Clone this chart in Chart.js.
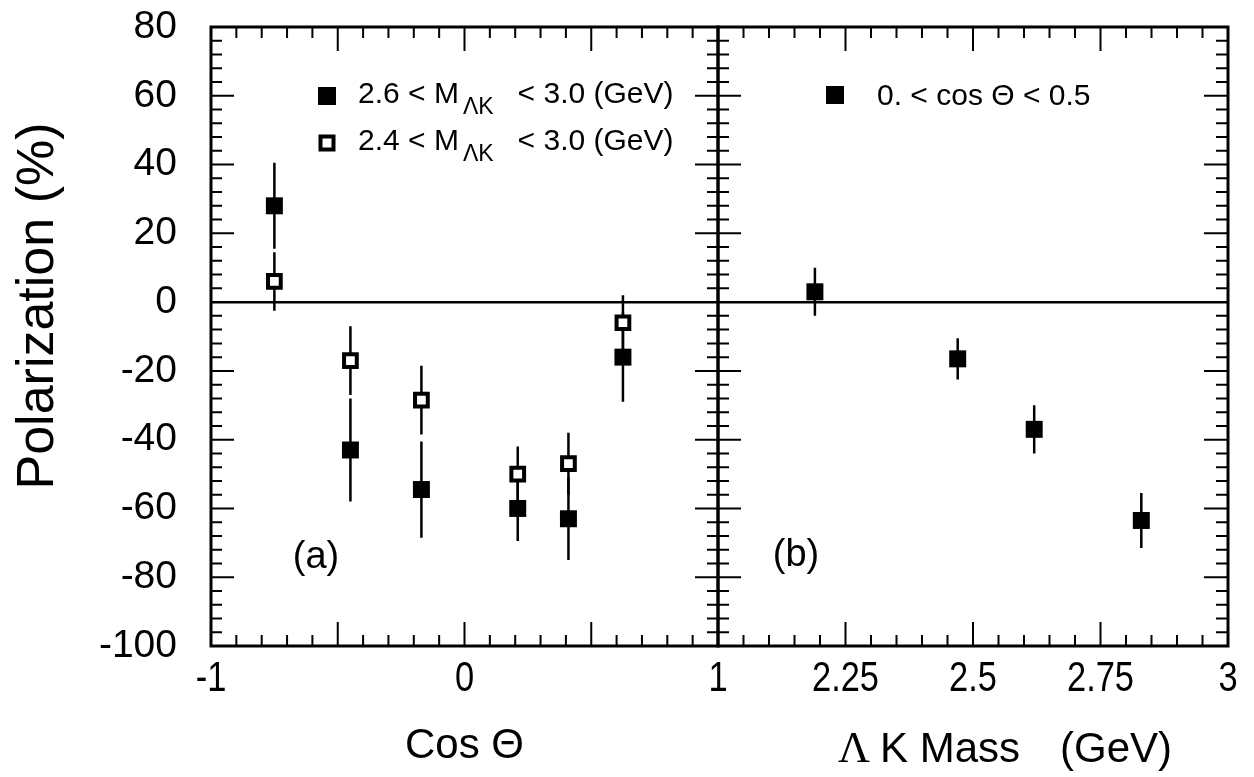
<!DOCTYPE html>
<html>
<head>
<meta charset="utf-8">
<script src="https://cdn.jsdelivr.net/npm/chart.js@4.4.0/dist/chart.umd.min.js"></script>
<style>
  html, body { margin: 0; padding: 0; background: #fff; }
  #wrap { position: relative; width: 1254px; height: 777px; overflow: hidden; background: #fff; }
  canvas { position: absolute; top: 0; }
  #chartA { left: 0; }
  #chartB { left: 700px; }
</style>
</head>
<body>
<div id="wrap">
  <canvas id="chartA" width="760" height="777"></canvas>
  <canvas id="chartB" width="554" height="777"></canvas>
</div>
<script>
// panel (a): polarization vs cos theta
const cosTheta = [-0.75, -0.45, -0.17, 0.21, 0.41, 0.625];
const polHigh = [28, -43, -54.5, -60, -63, -16];     // 2.6 < M < 3.0 (filled)
const polHighErr = [12.5, 15, 14, 9.5, 12, 13];
const polWide = [6, -17, -28.5, -50, -47, -6];       // 2.4 < M < 3.0 (open)
const polWideErr = [8.5, 10, 10, 8, 9, 8];

// panel (b): polarization vs Lambda K mass, 0 < cos < 0.5
const massLK = [2.19, 2.47, 2.62, 2.83];
const polMass = [3, -16.5, -37, -63.5];
const polMassErr = [7, 6, 7, 8];

const yMin = -100, yMax = 80, yStep = 20;
const xTicksA = [-1, 0, 1];
const xTicksB = [2.25, 2.5, 2.75, 3];

const SANS = "'Liberation Sans', Arial, Helvetica, sans-serif";
Chart.defaults.font.family = SANS;
Chart.defaults.color = '#000';

function points(xs, ys) {
  return xs.map((x, i) => ({ x: x, y: ys[i] }));
}

function errorBars(xs, ys, errs) {
  const out = [];
  xs.forEach((x, i) => {
    out.push({ x: x, y: ys[i] - errs[i] });
    out.push({ x: x, y: ys[i] + errs[i] });
    out.push({ x: x, y: null });
  });
  return out;
}

function barSet(data) {
  return {
    type: 'line', data: data, showLine: true, spanGaps: false,
    borderColor: '#000', borderWidth: 2.5, pointRadius: 0, fill: false
  };
}

function filledSet(data) {
  return {
    type: 'scatter', data: data, pointStyle: 'rect', pointRadius: 12,
    backgroundColor: '#000', borderColor: '#000', borderWidth: 0
  };
}

function openSet(data) {
  return {
    type: 'scatter', data: data, pointStyle: 'rect', pointRadius: 9,
    backgroundColor: '#fff', borderColor: '#000', borderWidth: 4
  };
}

// box with inward tick marks on all sides, plus condensed x tick labels
function framePlugin(cfg) {
  return {
    id: 'frame',
    afterDatasetsDraw(chart) {
      const { ctx, chartArea: a, scales } = chart;
      const xs = scales.x, ys = scales.y;
      ctx.save();
      ctx.strokeStyle = '#000';
      ctx.lineWidth = 2;
      ctx.beginPath();
      for (let v = yMin; v <= yMax; v += 4) {
        const py = ys.getPixelForValue(v);
        const len = v % 20 === 0 ? 23 : 11;
        if (cfg.left) { ctx.moveTo(a.left, py); ctx.lineTo(a.left + len, py); }
        if (cfg.right === 'in') { ctx.moveTo(a.right, py); ctx.lineTo(a.right - len - 1, py); }
        if (cfg.right === 'both') { ctx.moveTo(a.right - len, py); ctx.lineTo(a.right + len, py); }
      }
      for (let k = 0; k <= cfg.count; k++) {
        const px = xs.getPixelForValue(cfg.start + k * cfg.minor);
        const len = k % cfg.majorEvery === 0 ? 24 : 11;
        ctx.moveTo(px, a.bottom); ctx.lineTo(px, a.bottom - len);
        ctx.moveTo(px, a.top); ctx.lineTo(px, a.top + len);
      }
      ctx.stroke();
      ctx.lineWidth = 3;
      ctx.strokeRect(a.left, a.top, a.right - a.left, a.bottom - a.top);

      ctx.fillStyle = '#000';
      ctx.font = '42px ' + SANS;
      ctx.textAlign = 'center';
      ctx.textBaseline = 'middle';
      cfg.labels.forEach(v => {
        ctx.save();
        ctx.translate(xs.getPixelForValue(v), a.bottom + 33);
        ctx.scale(0.82, 1);
        ctx.fillText(String(v), 0, 0);
        ctx.restore();
      });
      ctx.restore();
    }
  };
}

function square(ctx, cx, cy, filled) {
  ctx.save();
  if (filled) {
    ctx.fillStyle = '#000';
    ctx.fillRect(cx - 9, cy - 9, 18, 18);
  } else {
    ctx.fillStyle = '#fff';
    ctx.strokeStyle = '#000';
    ctx.lineWidth = 4;
    ctx.fillRect(cx - 6.5, cy - 6.5, 13, 13);
    ctx.strokeRect(cx - 6.5, cy - 6.5, 13, 13);
  }
  ctx.restore();
}

function massLegendRow(ctx, x, base, low) {
  ctx.font = '30px ' + SANS;
  const head = low + ' < M';
  ctx.fillText(head, x, base);
  let cx = x + ctx.measureText(head).width + 4;
  ctx.font = '23px ' + SANS;
  ctx.fillText('\u039BK', cx, base + 11);
  cx += ctx.measureText('\u039BK').width + 24;
  ctx.font = '30px ' + SANS;
  ctx.fillText('< 3.0 (GeV)', cx, base);
}

const textA = {
  id: 'textA',
  afterDraw(chart) {
    const ctx = chart.ctx;
    ctx.save();
    ctx.fillStyle = '#000';
    ctx.textBaseline = 'alphabetic';
    ctx.textAlign = 'left';
    // y title
    ctx.save();
    ctx.translate(53, 306);
    ctx.rotate(-Math.PI / 2);
    ctx.textAlign = 'center';
    ctx.font = '52px ' + SANS;
    ctx.fillText('Polarization (%)', 0, 0);
    ctx.restore();
    // legend
    square(ctx, 327, 96, true);
    square(ctx, 327, 143, false);
    massLegendRow(ctx, 358, 103, '2.6');
    massLegendRow(ctx, 358, 150, '2.4');
    // panel tag
    ctx.font = '38px ' + SANS;
    ctx.textAlign = 'center';
    ctx.textBaseline = 'middle';
    ctx.fillText('(a)', 316, 558);
    ctx.restore();
  }
};

const textB = {
  id: 'textB',
  afterDraw(chart) {
    const ctx = chart.ctx;
    ctx.save();
    ctx.fillStyle = '#000';
    ctx.textBaseline = 'alphabetic';
    ctx.textAlign = 'left';
    square(ctx, 135, 95, true);
    ctx.font = '30px ' + SANS;
    ctx.fillText('0. < cos \u0398 < 0.5', 177, 105);
    // x title
    ctx.font = "44px 'Liberation Serif', 'Times New Roman', serif";
    ctx.fillText('\u039B', 138, 762);
    ctx.font = '42px ' + SANS;
    ctx.fillText('K Mass', 180, 762);
    ctx.fillText('(GeV)', 360, 762);
    ctx.font = '38px ' + SANS;
    ctx.textAlign = 'center';
    ctx.textBaseline = 'middle';
    ctx.fillText('(b)', 96, 556);
    ctx.restore();
  }
};

function yScale(showLabels) {
  return {
    type: 'linear', min: yMin, max: yMax,
    ticks: {
      display: showLabels, stepSize: yStep, padding: 34,
      font: { size: 39, lineHeight: 1.2 },
      callback: v => String(v)
    },
    grid: {
      drawTicks: false,
      lineWidth: 2.5,
      color: c => (c.tick && c.tick.value === 0 ? '#000' : 'rgba(0,0,0,0)')
    },
    border: { display: false },
    afterFit: s => {
      s.width = showLabels ? 211 : 0;
      s.paddingTop = 0;
      s.paddingBottom = 0;
    }
  };
}

function xScale(min, max, tickVals, title) {
  return {
    type: 'linear', min: min, max: max,
    afterBuildTicks: s => { s.ticks = tickVals.map(v => ({ value: v })); },
    ticks: { display: false },
    grid: { display: false, drawTicks: false },
    border: { display: false },
    title: title ? {
      display: true, text: title,
      font: { size: 42, lineHeight: 1.2 },
      padding: { top: 0, bottom: 5 }
    } : { display: false },
    afterFit: s => {
      s.height = 131;
      s.paddingLeft = 0;
      s.paddingRight = 0;
    }
  };
}

function baseOptions(padding, scales) {
  return {
    responsive: false,
    animation: false,
    events: [],
    layout: { padding: padding },
    plugins: { legend: { display: false }, tooltip: { enabled: false } },
    scales: scales
  };
}

new Chart(document.getElementById('chartA'), {
  type: 'scatter',
  data: {
    datasets: [
      filledSet(points(cosTheta, polHigh)),
      openSet(points(cosTheta, polWide)),
      barSet(errorBars(cosTheta, polWide, polWideErr)),
      barSet(errorBars(cosTheta, polHigh, polHighErr))
    ]
  },
  options: baseOptions({ left: 0, right: 42, top: 27, bottom: 0 }, {
    x: xScale(-1, 1, xTicksA, 'Cos \u0398'),
    y: yScale(true)
  }),
  plugins: [framePlugin({ left: true, right: 'both', start: -1, minor: 0.1, count: 20, majorEvery: 5, labels: xTicksA }), textA]
});

new Chart(document.getElementById('chartB'), {
  type: 'scatter',
  data: {
    datasets: [
      filledSet(points(massLK, polMass)),
      barSet(errorBars(massLK, polMass, polMassErr))
    ]
  },
  options: baseOptions({ left: 18, right: 26, top: 27, bottom: 0 }, {
    x: xScale(2, 3, xTicksB, null),
    y: yScale(false)
  }),
  plugins: [framePlugin({ left: false, right: 'in', start: 2, minor: 0.05, count: 20, majorEvery: 5, labels: xTicksB }), textB]
});
</script>
</body>
</html>
